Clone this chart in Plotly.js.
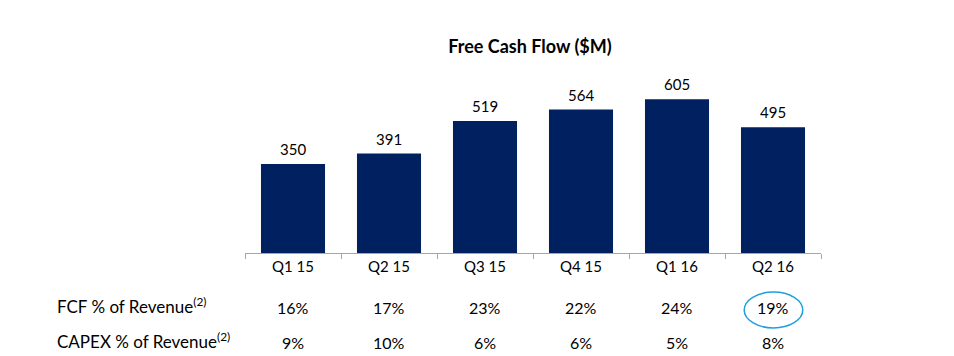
<!DOCTYPE html>
<html>
<head>
<meta charset="utf-8">
<script src="https://cdn.plot.ly/plotly-3.0.1.min.js"></script>
<style>html,body{margin:0;padding:0;background:#fff;}#chart{width:954px;height:356px;}</style>
</head>
<body>
<div id="chart"></div>
<script>
const quarters = ["Q1 15", "Q2 15", "Q3 15", "Q4 15", "Q1 16", "Q2 16"];
const fcf = [350, 391, 519, 564, 605, 495];
const fcfPct = ["16%", "17%", "23%", "22%", "24%", "19%"];
const capexPct = ["9%", "10%", "6%", "6%", "5%", "8%"];
const rowLabels = ["FCF % of Revenue<sup>(2)</sup>", "CAPEX % of Revenue<sup>(2)</sup>"];
const highlighted = "Q2 16";

const FONT = "Lato, 'Open Sans', sans-serif";

const H = 356, W = 954;
const mt = 75, mb = 103, ml = 245, mr = 133;
const ph = H - mt - mb, pw = W - ml - mr;
const py = px => (H - mb - px) / ph;   // pixel row -> paper y
const pxX = px => (px - ml) / pw;      // pixel column -> paper x

const annotations = [];
quarters.forEach((q, i) => {
  annotations.push({x: q, xref: "x", y: fcf[i], yref: "y", text: String(fcf[i]), showarrow: false,
    yanchor: "bottom", yshift: 4, font: {family: FONT, size: 15, color: "#000"}});
  annotations.push({x: q, xref: "x", y: py(307), yref: "paper", text: fcfPct[i], showarrow: false,
    yanchor: "middle", font: {family: FONT, size: 16, color: "#000"}});
  annotations.push({x: q, xref: "x", y: py(342), yref: "paper", text: capexPct[i], showarrow: false,
    yanchor: "middle", font: {family: FONT, size: 16, color: "#000"}});
});
[307, 342].forEach((yy, k) => {
  annotations.push({x: pxX(55), xref: "paper", y: py(yy - 2), yref: "paper", text: rowLabels[k], showarrow: false,
    xanchor: "left", yanchor: "middle", font: {family: FONT, size: 17, color: "#000"}});
});

const hiIdx = quarters.indexOf(highlighted);
const shapes = [{
  type: "circle", xref: "x", yref: "paper",
  x0: hiIdx - 0.3, x1: hiIdx + 0.31,
  y0: py(328), y1: py(292),
  line: {color: "#1fa0dc", width: 1.5}, fillcolor: "rgba(0,0,0,0)"
}];

const data = [{
  type: "bar", x: quarters, y: fcf,
  marker: {color: "#002060"},
  hoverinfo: "skip"
}];

const layout = {
  width: W, height: H,
  margin: {l: ml, r: mr, t: mt, b: mb},
  paper_bgcolor: "#fff", plot_bgcolor: "#fff",
  title: {text: "<b>Free Cash Flow ($M)</b>", x: 530 / W, xanchor: "center", y: 1 - 47 / H, yanchor: "middle",
    font: {family: FONT, size: 18, color: "#000"}},
  bargap: 0.333,
  showlegend: false,
  xaxis: {
    type: "category", showline: true, linecolor: "#a6a6a6", linewidth: 1,
    ticks: "outside", tickson: "boundaries", ticklen: 5, tickcolor: "#a6a6a6",
    showgrid: false, zeroline: false,
    tickfont: {family: FONT, size: 15, color: "#000"},
    fixedrange: true
  },
  yaxis: {range: [0, 700], visible: false, showgrid: false, zeroline: false, fixedrange: true},
  annotations: annotations,
  shapes: shapes
};

Plotly.newPlot("chart", data, layout, {displayModeBar: false, staticPlot: true});
</script>
</body>
</html>
